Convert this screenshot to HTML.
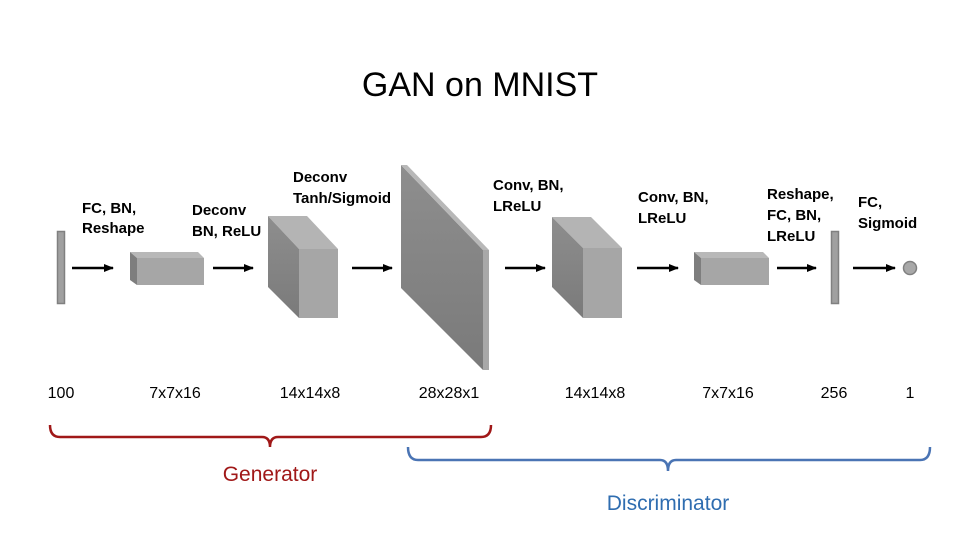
<!DOCTYPE html>
<html><head><meta charset="utf-8"><style>
html,body{margin:0;padding:0;background:#fff;}
svg{display:block;}
text{font-family:"Liberation Sans",sans-serif;}
</style></head><body>
<svg width="960" height="540" viewBox="0 0 960 540" xmlns="http://www.w3.org/2000/svg">
<defs>
<marker id="ah" markerWidth="10" markerHeight="8" refX="9" refY="4" orient="auto" markerUnits="userSpaceOnUse"><path d="M0,0 L10,4 L0,8 z" fill="#000"/></marker>
<linearGradient id="g1" x1="0" y1="0" x2="0" y2="1"><stop offset="0" stop-color="#8e8e8e"/><stop offset="1" stop-color="#7a7a7a"/></linearGradient>
</defs>
<text x="480" y="96" text-anchor="middle" font-size="34" fill="#000">GAN on MNIST</text>

<rect x="57.5" y="231.5" width="7" height="72" fill="#a0a0a0" stroke="#808080" stroke-width="1.5"/>
<line x1="72" y1="268" x2="113" y2="268" stroke="#000" stroke-width="2.5" marker-end="url(#ah)"/>
<polygon points="130,252 198,252 204,258 137,258" fill="#b8b8b8"/>
<polygon points="130,252 137,258 137,285 130,280" fill="#7e7e7e"/>
<rect x="137" y="258" width="67" height="27" fill="#a6a6a6"/>
<line x1="213" y1="268" x2="253" y2="268" stroke="#000" stroke-width="2.5" marker-end="url(#ah)"/>
<polygon points="268,216 307,216 338,249 299,249" fill="#b4b4b4"/>
<polygon points="268,216 299,249 299,318 268,287" fill="url(#g1)"/>
<rect x="299" y="249" width="39" height="69" fill="#a6a6a6"/>
<line x1="352" y1="268" x2="392" y2="268" stroke="#000" stroke-width="2.5" marker-end="url(#ah)"/>
<polygon points="401,165 483,250 483,370 401,288" fill="url(#g1)"/>
<polygon points="401,165 407,165 489,250 483,250" fill="#b8b8b8"/>
<rect x="483" y="250" width="6" height="120" fill="#a8a8a8"/>
<line x1="505" y1="268" x2="545" y2="268" stroke="#000" stroke-width="2.5" marker-end="url(#ah)"/>
<polygon points="552,217 591,217 622,248 583,248" fill="#b4b4b4"/>
<polygon points="552,217 583,248 583,318 552,287" fill="url(#g1)"/>
<rect x="583" y="248" width="39" height="70" fill="#a6a6a6"/>
<line x1="637" y1="268" x2="678" y2="268" stroke="#000" stroke-width="2.5" marker-end="url(#ah)"/>
<polygon points="694,252 763,252 769,258 701,258" fill="#b8b8b8"/>
<polygon points="694,252 701,258 701,285 694,280" fill="#7e7e7e"/>
<rect x="701" y="258" width="68" height="27" fill="#a6a6a6"/>
<line x1="777" y1="268" x2="816" y2="268" stroke="#000" stroke-width="2.5" marker-end="url(#ah)"/>
<rect x="831.5" y="231.5" width="7" height="72" fill="#a0a0a0" stroke="#808080" stroke-width="1.5"/>
<line x1="853" y1="268" x2="895" y2="268" stroke="#000" stroke-width="2.5" marker-end="url(#ah)"/>
<circle cx="910" cy="268" r="6.5" fill="#a8a8a8" stroke="#808080" stroke-width="1.5"/>

<g font-size="15" fill="#000" font-weight="bold">
<text x="82" y="213">FC, BN,</text><text x="82" y="233">Reshape</text>
<text x="192" y="215">Deconv</text><text x="192" y="236">BN, ReLU</text>
<text x="293" y="182">Deconv</text><text x="293" y="203">Tanh/Sigmoid</text>
<text x="493" y="190">Conv, BN,</text><text x="493" y="211">LReLU</text>
<text x="638" y="202">Conv, BN,</text><text x="638" y="223">LReLU</text>
<text x="767" y="199">Reshape,</text><text x="767" y="220">FC, BN,</text><text x="767" y="241">LReLU</text>
<text x="858" y="207">FC,</text><text x="858" y="228">Sigmoid</text>
</g>
<g font-size="16" fill="#000" text-anchor="middle">
<text x="61" y="398">100</text>
<text x="175" y="398">7x7x16</text>
<text x="310" y="398">14x14x8</text>
<text x="449" y="398">28x28x1</text>
<text x="595" y="398">14x14x8</text>
<text x="728" y="398">7x7x16</text>
<text x="834" y="398">256</text>
<text x="910" y="398">1</text>
</g>
<path d="M50,425 Q50,437 60,437 L262,437 Q270,437 270,447 Q270,437 278,437 L481,437 Q491,437 491,425" fill="none" stroke="#a01818" stroke-width="2.5"/>
<text x="270" y="481" text-anchor="middle" font-size="21" fill="#a01818">Generator</text>
<path d="M408,447 Q408,460 418,460 L660,460 Q668,460 668,471 Q668,460 676,460 L920,460 Q930,460 930,447" fill="none" stroke="#4a74b4" stroke-width="2.5"/>
<text x="668" y="510" text-anchor="middle" font-size="21" fill="#2f6db0">Discriminator</text>
</svg>
</body></html>
